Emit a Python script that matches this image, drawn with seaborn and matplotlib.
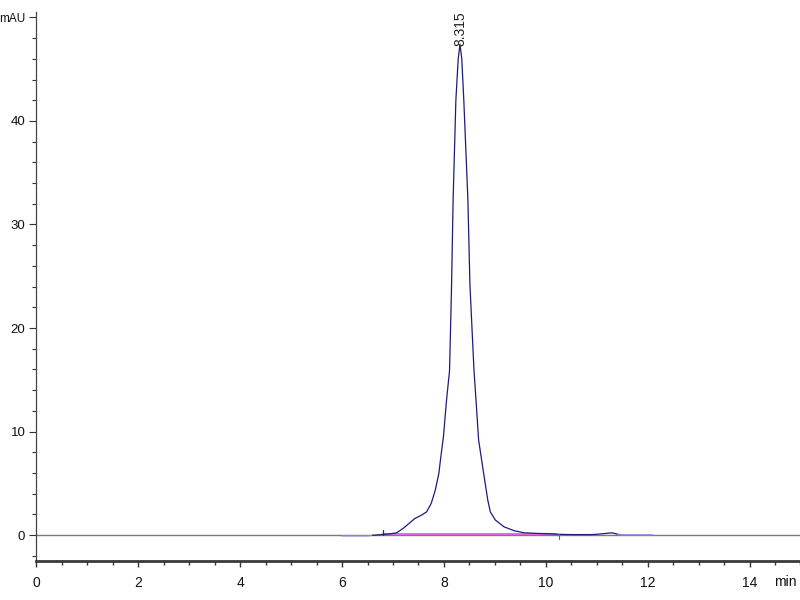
# Cromatograma HPLC - señal UV (mAU) vs tiempo (min)

import pandas as pd
import numpy as np
import seaborn as sns
import matplotlib.pyplot as plt
from matplotlib.ticker import MultipleLocator, FixedLocator

t_trace = [6.60, 6.81, 6.95, 7.07, 7.20, 7.33, 7.43, 7.56, 7.66, 7.75, 7.83, 7.90,
           7.94, 7.99, 8.05, 8.11, 8.15, 8.18, 8.234, 8.28, 8.315, 8.35, 8.39, 8.47,
           8.51, 8.59, 8.63, 8.68, 8.74, 8.80, 8.86, 8.91, 9.01, 9.18, 9.38, 9.58,
           9.85, 10.08, 10.25, 10.50, 10.90, 11.00, 11.15, 11.30, 11.40]
y_trace = [-0.02, 0.07, 0.13, 0.22, 0.65, 1.19, 1.61, 1.93, 2.25, 3.06, 4.35, 5.96,
           7.60, 9.50, 13.0, 15.9, 24.2, 32.4, 42.0, 46.0, 47.4, 46.0, 42.0, 32.4,
           24.2, 15.9, 13.0, 9.20, 7.25, 5.30, 3.40, 2.25, 1.45, 0.80, 0.42, 0.22,
           0.16, 0.13, 0.08, 0.05, 0.05, 0.08, 0.15, 0.22, 0.10]

# Tramos de línea base antes y después
t_lead = [6.00, 6.50, 6.60]
y_lead = [-0.07, -0.07, -0.02]
t_tail = [11.40, 11.50, 12.10]
y_tail = [0.10, 0.03, 0.02]

# Línea base de integración
t_base = [6.80, 10.20]
y_base = [0.07, 0.07]

peak_rt = 8.315
peak_h = 47.4

x_ticks = [0, 2, 4, 6, 8, 10, 12, 14]
y_ticks = [0, 10, 20, 30, 40, 50]
y_labels = ['0', '10', '20', '30', '40', 'mAU']

df = pd.DataFrame({'t': t_trace, 'y': y_trace})

sns.set_style("ticks")
plt.rcParams['font.family'] = ['Liberation Sans', 'DejaVu Sans']

fig = plt.figure(figsize=(8, 6), dpi=100)
ax = fig.add_axes([0.0456, 0.065, 0.955, 0.9155])

ax.axhline(0, color='#7a7a7a', lw=1.0, zorder=1)
sns.lineplot(x=t_lead, y=y_lead, ax=ax, color='#8a8ad8', lw=1.0, sort=False, estimator=None)
sns.lineplot(x=t_tail, y=y_tail, ax=ax, color='#8a8ad8', lw=1.0, sort=False, estimator=None)
sns.lineplot(x=t_base, y=y_base, ax=ax, color='#e050d8', lw=1.2, sort=False, estimator=None)
sns.lineplot(data=df, x='t', y='y', ax=ax, color='#1c1c7a', lw=0.9, sort=False, estimator=None)

# marcas de inicio y fin de integración
ax.plot([6.80, 6.80], [0.0, 0.45], color='#333333', lw=0.9)
ax.plot([10.25, 10.25], [0.1, -0.35], color='#666666', lw=0.8)

ax.text(peak_rt, peak_h - 0.2, '%.3f' % peak_rt, rotation=90, ha='center', va='bottom',
        fontsize=10, color='#222222')

ax.set_xlim(0, 15.0)
ax.set_ylim(-2.5, 50.55)

ax.xaxis.set_major_locator(FixedLocator(x_ticks))
ax.xaxis.set_minor_locator(MultipleLocator(0.5))
ax.yaxis.set_major_locator(FixedLocator(y_ticks))
ax.yaxis.set_minor_locator(MultipleLocator(2))
ax.set_xticklabels([str(v) for v in x_ticks])
ax.set_yticklabels(y_labels)

ax.tick_params(axis='both', which='major', colors='#333333', labelcolor='#111111')
ax.tick_params(axis='x', which='major', length=4.5, width=1.0, pad=6, labelsize=10)
ax.tick_params(axis='x', which='minor', length=3, width=1.0, colors='#333333')
ax.tick_params(axis='y', which='major', length=5, width=0.8, pad=3, labelsize=9.5)
ax.tick_params(axis='y', which='minor', length=3, width=0.8, colors='#333333')
ax.get_yticklabels()[-1].set_fontsize(8.5)

ax.text(14.7, -0.025, 'min', transform=ax.get_xaxis_transform(), ha='center', va='top',
        fontsize=10, color='#111111')

ax.set_xlabel('')
ax.set_ylabel('')
sns.despine(ax=ax)
ax.spines['left'].set_color('#444444')
ax.spines['left'].set_linewidth(0.9)
ax.spines['bottom'].set_color('#3a3a3a')
ax.spines['bottom'].set_linewidth(2.0)

fig.savefig('out.png', dpi=100)
